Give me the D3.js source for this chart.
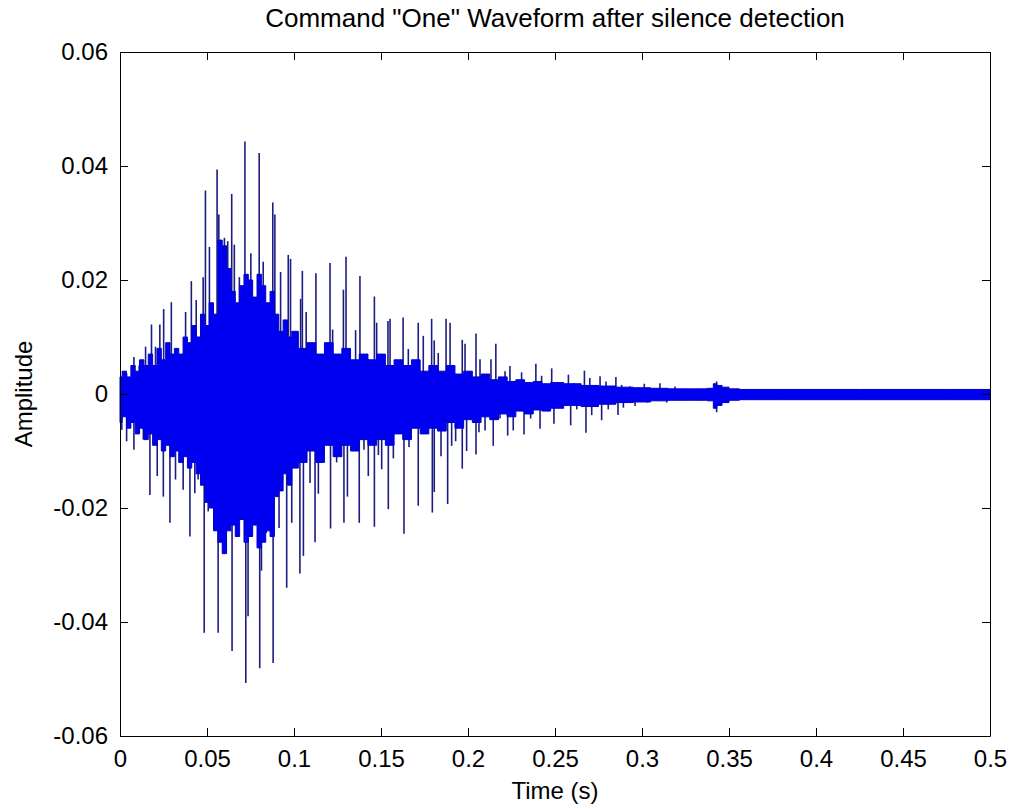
<!DOCTYPE html>
<html>
<head>
<meta charset="utf-8">
<script src="https://cdn.jsdelivr.net/npm/d3@7/dist/d3.min.js"></script>
<style>
body { margin: 0; background: #fff; }
text { font-family: "Liberation Sans", Arial, sans-serif; fill: #000; }
</style>
</head>
<body>
<svg width="1013" height="809"></svg>
<script>
// ticks
var xTicks = [0, 0.05, 0.1, 0.15, 0.2, 0.25, 0.3, 0.35, 0.4, 0.45, 0.5];
var xTickLabels = ["0", "0.05", "0.1", "0.15", "0.2", "0.25", "0.3", "0.35", "0.4", "0.45", "0.5"];
var yTicks = [-0.06, -0.04, -0.02, 0, 0.02, 0.04, 0.06];
var yTickLabels = ["-0.06", "-0.04", "-0.02", "0", "0.02", "0.04", "0.06"];

// dense core of the waveform (upper / lower edge)
var coreTime = [0, 0.0025, 0.005, 0.0075, 0.01, 0.0125, 0.015, 0.0175, 0.02, 0.0225, 0.025, 0.0275, 0.03, 0.0325,
    0.035, 0.0375, 0.04, 0.0425, 0.045, 0.0475, 0.05, 0.0525, 0.055, 0.0575, 0.06, 0.0625, 0.065, 0.0675, 0.07,
    0.0725, 0.075, 0.0775, 0.08, 0.0825, 0.085, 0.0875, 0.09, 0.0925, 0.095, 0.0975, 0.1,
    0.105, 0.11, 0.115, 0.12, 0.125, 0.13, 0.135, 0.14, 0.145, 0.15, 0.155, 0.16, 0.165, 0.17, 0.175, 0.18, 0.185,
    0.19, 0.195, 0.2, 0.205, 0.21, 0.215, 0.22, 0.225, 0.23, 0.235, 0.24, 0.245, 0.25,
    0.26, 0.27, 0.28, 0.29, 0.3, 0.31, 0.32, 0.335, 0.34, 0.342, 0.344, 0.348, 0.352, 0.36, 0.4, 0.45, 0.5];
var coreUpper = [0.003, 0.004, 0.003, 0.005, 0.004, 0.006, 0.005, 0.007, 0.005, 0.008, 0.006, 0.009, 0.007, 0.008,
    0.007, 0.010, 0.009, 0.012, 0.010, 0.014, 0.012, 0.016, 0.014, 0.027, 0.026, 0.022, 0.018, 0.016, 0.019,
    0.021, 0.020, 0.017, 0.021, 0.019, 0.016, 0.018, 0.014, 0.011, 0.013, 0.010, 0.011,
    0.008, 0.009, 0.007, 0.009, 0.007, 0.008, 0.006, 0.007, 0.006, 0.007, 0.005, 0.006, 0.005, 0.006, 0.004, 0.005, 0.004,
    0.005, 0.0035, 0.004, 0.003, 0.0035, 0.0025, 0.003, 0.0022, 0.0025, 0.002, 0.0022, 0.0018, 0.002,
    0.0018, 0.0015, 0.0014, 0.0012, 0.0011, 0.0010, 0.0009, 0.0009, 0.0010, 0.0018, 0.0015, 0.0012, 0.0009, 0.0008, 0.0008, 0.0008, 0.0008];
var coreLower = [-0.005, -0.004, -0.006, -0.005, -0.007, -0.006, -0.008, -0.007, -0.009, -0.008, -0.010, -0.009, -0.011, -0.010,
    -0.012, -0.011, -0.013, -0.012, -0.014, -0.016, -0.019, -0.020, -0.024, -0.026, -0.028, -0.024, -0.023, -0.025, -0.022,
    -0.026, -0.025, -0.023, -0.027, -0.026, -0.024, -0.025, -0.018, -0.017, -0.014, -0.016, -0.013,
    -0.012, -0.010, -0.012, -0.009, -0.011, -0.009, -0.010, -0.008, -0.009, -0.008, -0.009, -0.007, -0.008, -0.006, -0.007, -0.006, -0.0065,
    -0.005, -0.006, -0.0045, -0.005, -0.004, -0.0045, -0.0035, -0.004, -0.003, -0.0035, -0.0028, -0.003, -0.0025,
    -0.002, -0.0022, -0.0018, -0.0015, -0.0014, -0.0012, -0.0011, -0.0011, -0.0012, -0.0025, -0.002, -0.0015, -0.0011, -0.001, -0.001, -0.001, -0.001];

// spikes sticking out of the core
var spikeTime = [0.0038, 0.008, 0.011, 0.0147, 0.0181, 0.0204, 0.0229, 0.0251, 0.0295, 0.0377, 0.041, 0.0438, 0.0478,
    0.0491, 0.0514, 0.0558, 0.0568, 0.060, 0.0619, 0.0642, 0.0657, 0.0686, 0.0718, 0.0752, 0.080, 0.0823, 0.0878,
    0.089, 0.0923, 0.0967, 0.098, 0.1038, 0.1048, 0.107, 0.1126, 0.1149, 0.1207, 0.1222, 0.1284, 0.1299, 0.1354,
    0.1379, 0.1427, 0.1462, 0.1475, 0.154, 0.1552, 0.1627, 0.1657, 0.1714, 0.1743, 0.1791, 0.1806, 0.1829, 0.1874,
    0.1897, 0.1967, 0.1983, 0.2046, 0.2069, 0.2132, 0.216, 0.2213, 0.2241, 0.2308, 0.239, 0.2423, 0.2481, 0.2577,
    0.2609, 0.2669, 0.27, 0.2759, 0.2793, 0.285, 0.2883, 0.2931, 0.3013, 0.3103, 0.319, 0.3429,
    // negative side
    0.001, 0.0038, 0.008, 0.0134, 0.0172, 0.0214, 0.0249, 0.0287, 0.0319, 0.0363, 0.0402, 0.043, 0.0449, 0.0484,
    0.0507, 0.0564, 0.0597, 0.0644, 0.0669, 0.0688, 0.0723, 0.0736, 0.0803, 0.0813, 0.0841, 0.088, 0.0914, 0.0918,
    0.0958, 0.0987, 0.1034, 0.1054, 0.1092, 0.1121, 0.114, 0.121, 0.1245, 0.1287, 0.1307, 0.1375, 0.1402, 0.1427,
    0.1462, 0.1485, 0.1504, 0.1542, 0.1571, 0.1632, 0.1661, 0.1714, 0.1795, 0.1806, 0.1845, 0.1883, 0.1906, 0.1929,
    0.1967, 0.1992, 0.2046, 0.2063, 0.2098, 0.2145, 0.2184, 0.2228, 0.226, 0.2322, 0.236, 0.2414, 0.2452, 0.2494,
    0.259, 0.2625, 0.2678, 0.2711, 0.2768, 0.2806, 0.2862, 0.2893, 0.296, 0.3031, 0.3142, 0.3429];
var spikeAmp = [0.0036, 0.0065, 0.005, 0.0083, 0.0122, 0.0083, 0.0122, 0.0149, 0.0161, 0.0144, 0.0198, 0.0165, 0.0205,
    0.0357, 0.0258, 0.0394, 0.0315, 0.0274, 0.0268, 0.0351, 0.0262, 0.0205, 0.0443, 0.0247, 0.0423, 0.0232, 0.0336,
    0.0315, 0.0214, 0.0244, 0.0237, 0.0167, 0.0216, 0.0144, 0.0212, 0.0067, 0.023, 0.0113, 0.0183, 0.0241, 0.0112,
    0.0207, 0.0061, 0.0171, 0.0125, 0.0128, 0.0132, 0.0134, 0.0079, 0.0125, 0.0102, 0.0132, 0.0094, 0.0072, 0.0132,
    0.0125, 0.0095, 0.0088, 0.0106, 0.0061, 0.0061, 0.0088, 0.004, 0.0049, 0.0038, 0.0053, 0.0032, 0.0045, 0.0034,
    0.0019, 0.0041, 0.0028, 0.0031, 0.0022, 0.003, 0.0016, 0.0013, 0.0018, 0.0019, 0.0013, 0.0022,
    -0.0063, -0.0083, -0.0098, -0.008, -0.0177, -0.0144, -0.018, -0.0226, -0.015, -0.0168, -0.025, -0.0174, -0.015, -0.0419,
    -0.0206, -0.0419, -0.028, -0.0451, -0.022, -0.017, -0.0507, -0.039, -0.0481, -0.031, -0.0244, -0.0472, -0.0235, -0.017,
    -0.034, -0.0226, -0.0315, -0.0284, -0.0156, -0.026, -0.0175, -0.0236, -0.012, -0.0226, -0.018, -0.0226, -0.0098, -0.0144,
    -0.0233, -0.0107, -0.0132, -0.0202, -0.0113, -0.0245, -0.0093, -0.0196, -0.0208, -0.0172, -0.0109, -0.0193, -0.0091, -0.0083,
    -0.0131, -0.01, -0.0106, -0.0067, -0.0064, -0.0091, -0.0043, -0.0073, -0.0064, -0.0071, -0.0043, -0.0061, -0.0022, -0.0052,
    -0.0055, -0.0027, -0.0068, -0.0037, -0.0046, -0.0027, -0.0037, -0.0024, -0.0021, -0.0015, -0.0015, -0.0032];

var svg = d3.select("svg");
var plotLeft = 120, plotRight = 990, plotTop = 52, plotBottom = 736;

var x = d3.scaleLinear().domain([0, 0.5]).range([plotLeft, plotRight]);
var y = d3.scaleLinear().domain([-0.06, 0.06]).range([plotBottom, plotTop]);

var plot = svg.append("g");

// spikes first, core drawn over them
plot.selectAll("line.spike")
    .data(spikeTime)
    .enter()
    .append("line")
    .attr("class", "spike")
    .attr("x1", function (d) { return x(d); })
    .attr("x2", function (d) { return x(d); })
    .attr("y1", y(0))
    .attr("y2", function (d, i) { return y(spikeAmp[i]); })
    .attr("stroke", "#1c1c82")
    .attr("stroke-width", 1.6);

var core = d3.area()
    .curve(d3.curveStep)
    .x(function (d, i) { return x(coreTime[i]); })
    .y0(function (d, i) { return y(coreLower[i]); })
    .y1(function (d, i) { return y(coreUpper[i]); });

plot.append("path")
    .datum(coreTime)
    .attr("d", core)
    .attr("fill", "#0000f0")
    .attr("stroke", "#0000c8")
    .attr("stroke-width", 1);

// axes, ticks pointing inwards like matlab
var fmtX = function (d, i) { return xTickLabels[i]; };
var fmtY = function (d, i) { return yTickLabels[i]; };

svg.append("g")
    .attr("class", "axis")
    .attr("transform", "translate(0," + plotBottom + ")")
    .call(d3.axisBottom(x).tickValues(xTicks).tickFormat(fmtX).tickSizeInner(-8).tickSizeOuter(0).tickPadding(14));

svg.append("g")
    .attr("class", "axis")
    .attr("transform", "translate(0," + plotTop + ")")
    .call(d3.axisTop(x).tickValues(xTicks).tickFormat("").tickSizeInner(-8).tickSizeOuter(0));

svg.append("g")
    .attr("class", "axis")
    .attr("transform", "translate(" + plotLeft + ",0)")
    .call(d3.axisLeft(y).tickValues(yTicks).tickFormat(fmtY).tickSizeInner(-8).tickSizeOuter(0).tickPadding(12));

svg.append("g")
    .attr("class", "axis")
    .attr("transform", "translate(" + plotRight + ",0)")
    .call(d3.axisRight(y).tickValues(yTicks).tickFormat("").tickSizeInner(-8).tickSizeOuter(0));

svg.selectAll(".axis text")
    .style("font-family", "'Liberation Sans', Arial, sans-serif")
    .style("font-size", "24px")
    .attr("fill", "#000");
svg.selectAll(".axis path, .axis line").attr("stroke", "#000");

svg.append("text")
    .attr("x", (plotLeft + plotRight) / 2)
    .attr("y", 27)
    .attr("text-anchor", "middle")
    .style("font-size", "26px")
    .text("Command \"One\" Waveform after silence detection");

svg.append("text")
    .attr("x", (plotLeft + plotRight) / 2)
    .attr("y", 799)
    .attr("text-anchor", "middle")
    .style("font-size", "24px")
    .text("Time (s)");

svg.append("text")
    .attr("transform", "translate(32," + y(0) + ")rotate(-90)")
    .attr("text-anchor", "middle")
    .style("font-size", "24px")
    .text("Amplitude");
</script>
</body>
</html>
